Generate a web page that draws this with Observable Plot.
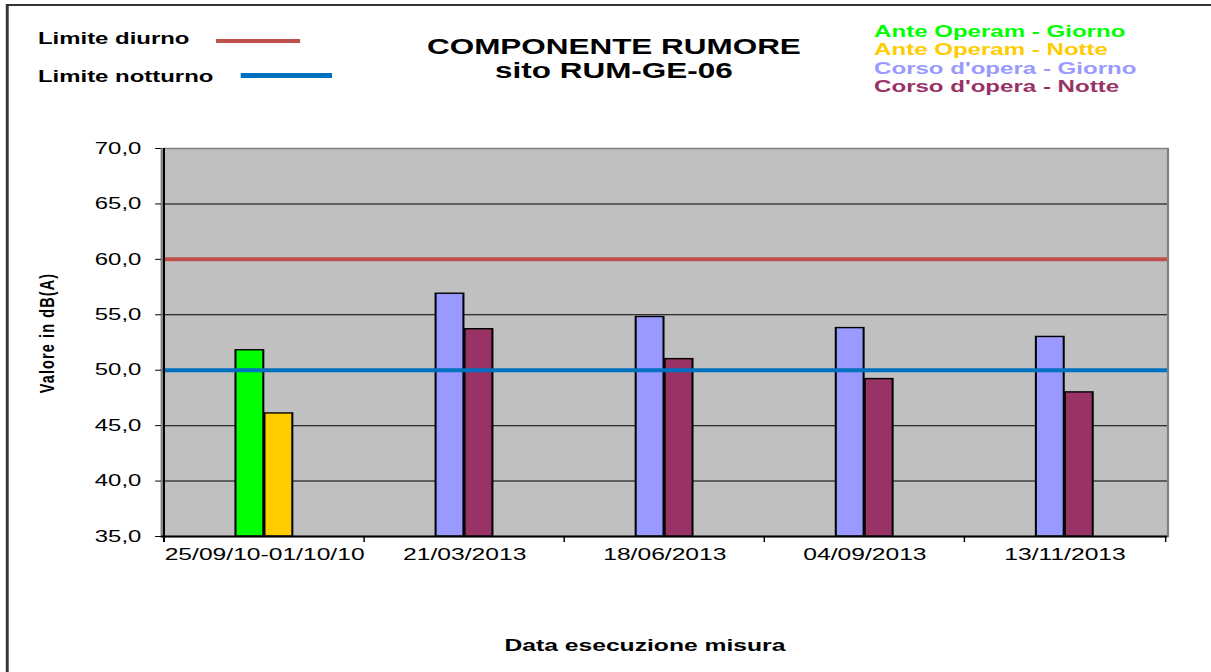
<!DOCTYPE html>
<html><head><meta charset="utf-8">
<script src="https://cdn.jsdelivr.net/npm/d3@7"></script>
<script src="https://cdn.jsdelivr.net/npm/@observablehq/plot@0.6"></script>
<style>
html,body{margin:0;padding:0;background:#fff;overflow:hidden;width:1211px;height:672px}
#stage{position:absolute;left:0;top:0;width:836px;height:672px;transform:scaleX(1.45);transform-origin:0 0;font-family:Arial,"Liberation Sans",sans-serif;color:#000}
.t{position:absolute;white-space:nowrap;font-weight:bold}
#border{position:absolute;left:4.3px;top:4px;width:1000px;height:800px;border:2px solid #333;box-sizing:border-box}
#chart{position:absolute;left:0;top:0}
</style></head><body>
<div id="stage">
  <div id="border"></div>
  <div id="chart"></div>
</div>
<script>
// ---- data ----
const dates = ["25/09/10-01/10/10", "21/03/2013", "18/06/2013", "04/09/2013", "13/11/2013"];
const phases = ["Ante Operam", "Corso d'opera", "Corso d'opera", "Corso d'opera", "Corso d'opera"];
const giorno = [51.8, 56.9, 54.8, 53.8, 53.0];
const notte = [46.1, 53.7, 51.0, 49.2, 48.0];
const yTicks = [35, 40, 45, 50, 55, 60, 65, 70];
const limiteDiurno = 60;
const limiteNotturno = 50;
const seriesKeys = ["Ante Operam - Giorno", "Ante Operam - Notte", "Corso d'opera - Giorno", "Corso d'opera - Notte"];
const seriesColors = ["#00FF00", "#FFCC00", "#9999FF", "#993366"];
const limitLabels = ["Limite diurno", "Limite notturno"];
const limitColors = ["#C0504D", "#0070C0"];
const titleLines = ["COMPONENTE RUMORE", "sito RUM-GE-06"];
const yLabel = "Valore in dB(A)";
const xLabel = "Data esecuzione misura";

// ---- layout (unscaled coordinates; stage is stretched horizontally) ----
const W = 836, H = 600, mL = 111, mR = 31, mT = 148, mB = 64;
const bw = (W - mL - mR) / dates.length;
const barW = 20;
const font = 'Arial, "Liberation Sans", sans-serif';

const rowsG = dates.map((d, i) => ({date: d, key: phases[i] + " - Giorno", value: giorno[i]}));
const rowsN = dates.map((d, i) => ({date: d, key: phases[i] + " - Notte", value: notte[i]}));

const chart = Plot.plot({
  width: W, height: H,
  marginLeft: mL, marginRight: mR, marginTop: mT, marginBottom: mB,
  style: {fontFamily: font, color: "black", background: "transparent", overflow: "visible"},
  x: {domain: dates, padding: 0},
  y: {domain: [35, 70]},
  color: {domain: seriesKeys, range: seriesColors},
  marks: [
    Plot.frame({fill: "#C0C0C0"}),
    Plot.ruleY(yTicks.slice(1, -1), {stroke: "black", strokeWidth: 1}),
    Plot.barY(rowsG, {x: "date", y1: 35, y2: "value", fill: "key", stroke: "black", strokeWidth: 1.4,
      insetLeft: bw / 2 - barW, insetRight: bw / 2}),
    Plot.barY(rowsN, {x: "date", y1: 35, y2: "value", fill: "key", stroke: "black", strokeWidth: 1.4,
      insetLeft: bw / 2, insetRight: bw / 2 - barW}),
    Plot.ruleY([limiteDiurno], {stroke: limitColors[0], strokeWidth: 4}),
    Plot.ruleY([limiteNotturno], {stroke: limitColors[1], strokeWidth: 4}),
    Plot.frame({stroke: "#808080", strokeWidth: 1.5}),
    Plot.ruleY([35], {stroke: "black", strokeWidth: 2}),
    Plot.ruleX([dates[0]], {x: d => d, dx: -bw / 2, y1: 70, y2: 35, insetBottom: -6, stroke: "black", strokeWidth: 1.4}),
    Plot.ruleX(dates, {x: d => d, dx: -bw / 2, y1: 35, y2: 35, insetBottom: -6, stroke: "black", strokeWidth: 1}),
    Plot.ruleX([dates[dates.length - 1]], {x: d => d, dx: bw / 2, y1: 35, y2: 35, insetBottom: -6, stroke: "black", strokeWidth: 1}),
    Plot.axisY({ticks: yTicks, tickFormat: d => d.toFixed(1).replace(".", ","), tickSize: 4, tickPadding: 10, fontSize: 16.5, label: null}),
    Plot.axisX({tickSize: 0, tickPadding: 11, fontSize: 17, label: null})
  ]
});
document.getElementById("chart").appendChild(chart);

// ---- texts / legends ----
const stage = document.getElementById("stage");
function addText(txt, css) {
  const d = document.createElement("div");
  d.className = "t";
  d.textContent = txt;
  Object.assign(d.style, css);
  stage.appendChild(d);
  return d;
}
function addLine(color, left, width, top, thick) {
  const d = document.createElement("div");
  Object.assign(d.style, {position: "absolute", left: left + "px", width: width + "px", top: top + "px", height: thick + "px", background: color});
  stage.appendChild(d);
}
// title
titleLines.forEach((t, i) => addText(t, {left: "223.4px", width: "400px", textAlign: "center", top: (35.4 + i * 24) + "px", fontSize: "21.7px", lineHeight: "24px"}));
// left legend (limits)
addText(limitLabels[0], {left: "26.2px", top: "30px", fontSize: "16.5px", lineHeight: "16.5px"});
addText(limitLabels[1], {left: "26.2px", top: "67.7px", fontSize: "16.5px", lineHeight: "16.5px"});
addLine(limitColors[0], 149, 57.9, 38.5, 4);
addLine(limitColors[1], 165.5, 63.9, 72.5, 5);
// right legend (series)
seriesKeys.forEach((k, i) => addText(k, {left: "602.8px", top: (22.6 + i * 18.5) + "px", fontSize: "16.6px", lineHeight: "18.5px", color: seriesColors[i]}));
// axis titles
addText(xLabel, {left: "244.8px", width: "400px", textAlign: "center", top: "636.6px", fontSize: "17px", lineHeight: "17px"});
addText(yLabel, {left: (32.4 - 100) + "px", width: "200px", textAlign: "center", top: (333 - 8) + "px", fontSize: "14.5px", lineHeight: "16px", letterSpacing: "1.1px", transform: "rotate(-90deg)", transformOrigin: "50% 50%"});
</script>
</body></html>
